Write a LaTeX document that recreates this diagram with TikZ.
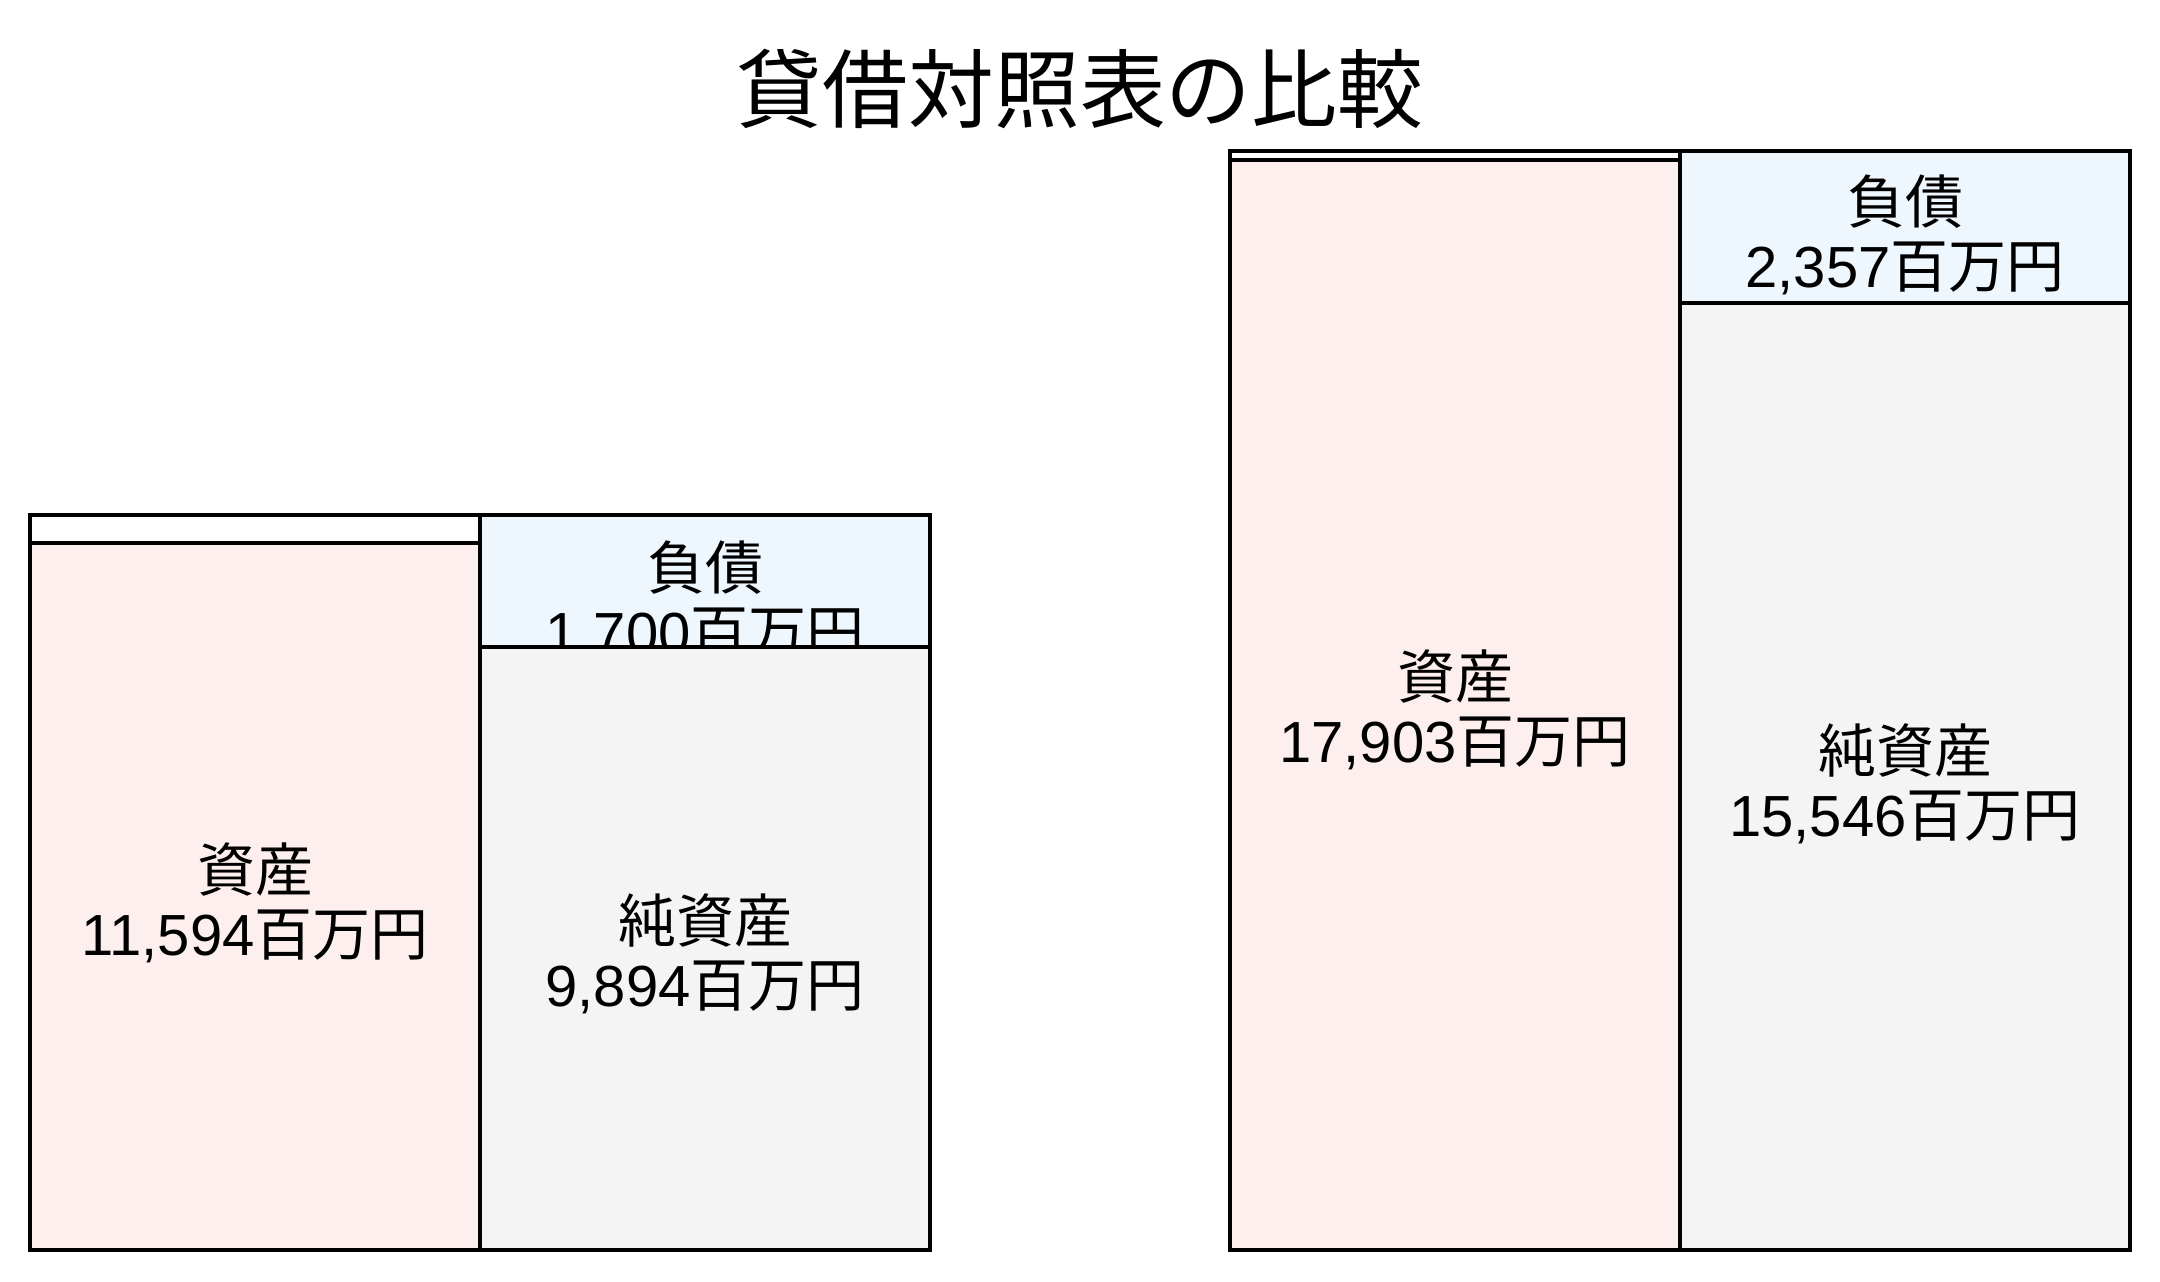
\documentclass[tikz,border=0pt]{standalone}
\usepackage{fontspec}
\setmainfont{Liberation Sans}
\newfontfamily\cjk{Noto Sans CJK JP}
\usepackage{tikz}
\definecolor{assetc}{RGB}{253,239,238}
\definecolor{liabc}{RGB}{238,246,254}
\definecolor{netc}{RGB}{244,244,244}
\tikzstyle{boxs}=[draw=black,line width=1.2pt,fill=white]
\tikzstyle{boxa}=[draw=black,line width=1.2pt,fill=assetc]
\tikzstyle{boxl}=[draw=black,line width=1.2pt,fill=liabc]
\tikzstyle{boxn}=[draw=black,line width=1.2pt,fill=netc]
\tikzstyle{lbl}=[align=center,inner sep=0pt,font=\fontsize{16.5}{18.4}\selectfont]

\begin{document}
\begin{tikzpicture}
    \useasboundingbox (0,0) rectangle (21.6,12.81);
    \node[font=\fontsize{24.4}{30}\selectfont\cjk] (title) at (10.80,11.92) {貸借対照表の比較};

    % left
    \draw[boxs] (0.30,7.38) rectangle (4.80,7.66);
    \draw[boxa] (0.30,0.31) rectangle (4.80,7.38);
    \draw[boxl] (4.80,6.34) rectangle (9.30,7.66);
    \node[lbl] (l1) at (7.05,6.80) {{\cjk 負債}\\1,700{\cjk 百万円}};
    \draw[boxn] (4.80,0.31) rectangle (9.30,6.34);
    \node[lbl] (a1) at (2.55,3.78) {{\cjk 資産}\\11,594{\cjk 百万円}};
    \node[lbl] (n1) at (7.05,3.27) {{\cjk 純資産}\\9,894{\cjk 百万円}};

    % right
    \draw[boxs] (12.30,11.21) rectangle (16.80,11.30);
    \draw[boxa] (12.30,0.31) rectangle (16.80,11.21);
    \draw[boxl] (16.80,9.78) rectangle (21.30,11.30);
    \node[lbl] (l2) at (19.05,10.46) {{\cjk 負債}\\2,357{\cjk 百万円}};
    \draw[boxn] (16.80,0.31) rectangle (21.30,9.78);
    \node[lbl] (a2) at (14.55,5.71) {{\cjk 資産}\\17,903{\cjk 百万円}};
    \node[lbl] (n2) at (19.05,4.97) {{\cjk 純資産}\\15,546{\cjk 百万円}};
\end{tikzpicture}
\end{document}
